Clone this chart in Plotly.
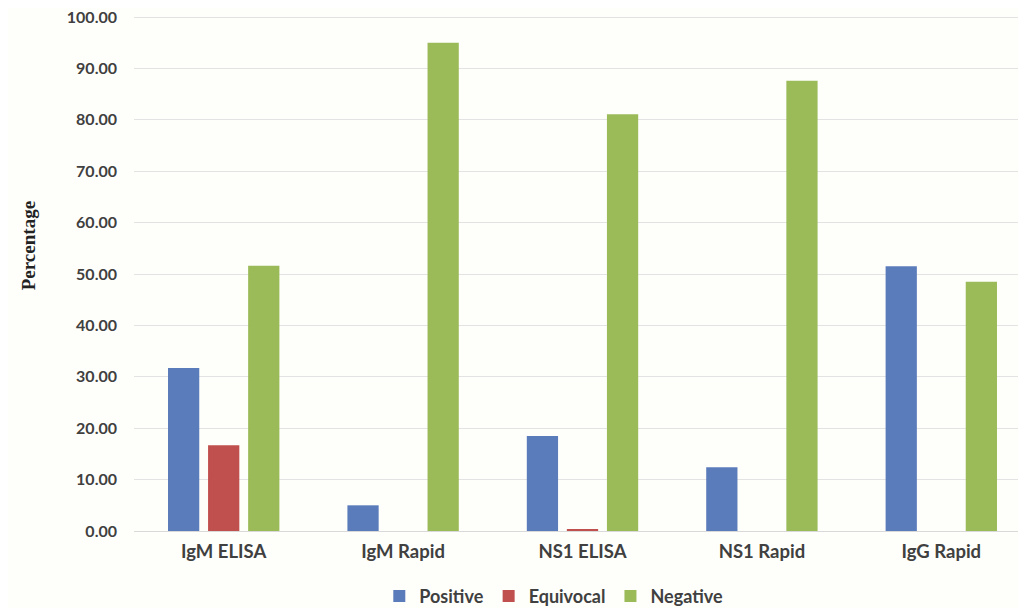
import plotly.graph_objects as go

categories = ["IgM ELISA", "IgM Rapid", "NS1 ELISA", "NS1 Rapid", "IgG Rapid"]
positive = [31.7, 5.0, 18.5, 12.4, 51.5]
equivocal = [16.7, 0.0, 0.4, 0.0, 0.0]
negative = [51.6, 95.0, 81.1, 87.6, 48.5]
y_ticks = [0, 10, 20, 30, 40, 50, 60, 70, 80, 90, 100]

FONT = "Lato, Open Sans, sans-serif"

fig = go.Figure()
fig.add_trace(go.Bar(name="Positive", x=categories, y=positive, marker_color="#5B7CBA",
                     marker_line_width=0))
fig.add_trace(go.Bar(name="Equivocal", x=categories, y=equivocal, marker_color="#C0504D",
                     marker_line_width=0))
fig.add_trace(go.Bar(name="Negative", x=categories, y=negative, marker_color="#9BBB59",
                     marker_line_width=0))

fig.update_layout(
    width=1026, height=608,
    barmode="group", bargap=0.33, bargroupgap=0.22,
    paper_bgcolor="#FEFEFB", plot_bgcolor="#FEFEFB",
    margin=dict(l=126, r=3, t=5, b=85, autoexpand=False),
    font=dict(family=FONT, size=15, color="#404040"),
    showlegend=True,
    legend=dict(orientation="h", x=0.468, xanchor="center", y=-0.126, yanchor="middle",
                font=dict(size=18, color="#404040", family=FONT, weight="bold"),
                itemwidth=30, traceorder="normal"),
    xaxis=dict(showgrid=False, showline=False, ticks="", automargin=False,
               ticklabelstandoff=7,
               tickfont=dict(size=18.5, color="#404040", family=FONT, weight="bold")),
    yaxis=dict(range=[0, 100.8], tickvals=y_ticks, tickformat=".2f", automargin=False,
               ticklabeloverflow="allow",
               showgrid=True, gridcolor="#E3E3E3", gridwidth=1,
               zeroline=True, zerolinecolor="#D9D9D9", zerolinewidth=1,
               showline=False, ticks="", ticklabelstandoff=16,
               tickfont=dict(size=16, color="#404040", family=FONT, weight="bold")),
    annotations=[dict(text="Percentage", xref="paper", yref="paper", x=-0.118, y=0.55,
                      xanchor="center", yanchor="middle", textangle=-90, showarrow=False,
                      font=dict(family="Liberation Serif, Times New Roman, serif", size=19,
                                color="#222222", weight="bold"))],
)

fig.write_html("out.html")
